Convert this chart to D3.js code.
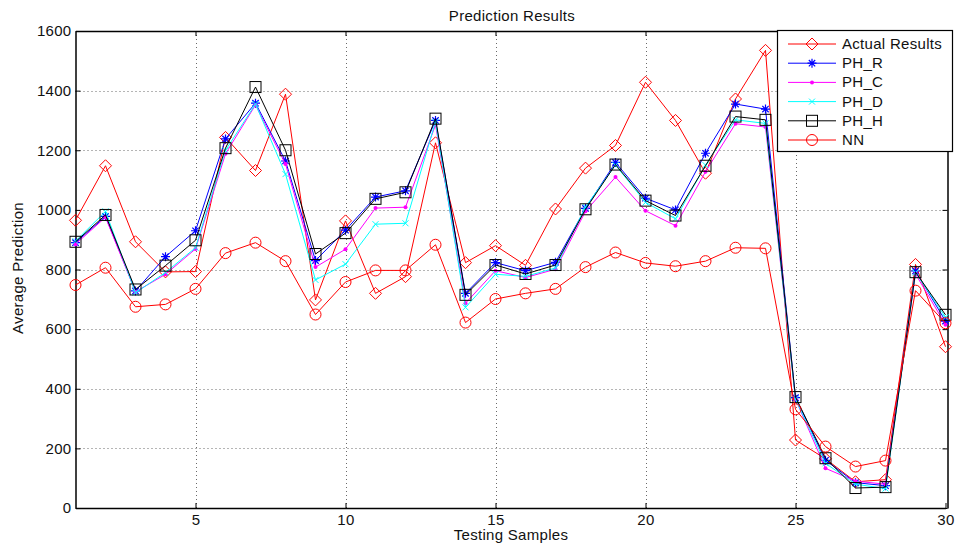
<!DOCTYPE html>
<html>
<head>
<meta charset="utf-8">
<script src="https://cdn.jsdelivr.net/npm/d3@7"></script>
<style>
  body { margin: 0; background: #fff; }
  svg { font-family: "Liberation Sans", Arial, sans-serif; }
</style>
</head>
<body>
<div id="canvas"></div>
<script>
// samples 1..30
var samples = d3.range(1, 31);

var actual = [965, 1148, 893, 792, 793, 1243, 1132, 1388, 698, 963,
              720, 776, 1225, 823, 880, 814, 1003, 1140, 1216, 1428,
              1300, 1123, 1372, 1535, 228, 165, 88, 95, 817, 541];
var phR = [890, 978, 728, 843, 930, 1238, 1358, 1164, 830, 932,
           1043, 1064, 1300, 720, 823, 796, 824, 1005, 1159, 1039,
           1000, 1190, 1355, 1338, 370, 160, 85, 75, 795, 627];
var phC = [885, 975, 725, 784, 869, 1188, 1352, 1154, 808, 868,
           1006, 1009, 1285, 687, 796, 773, 801, 995, 1110, 997,
           947, 1128, 1289, 1278, 365, 133, 90, 80, 785, 615];
var phD = [895, 995, 722, 790, 873, 1200, 1355, 1120, 765, 818,
           952, 955, 1295, 673, 784, 777, 805, 1010, 1150, 1025,
           970, 1150, 1302, 1290, 365, 150, 80, 65, 790, 640];
var phH = [893, 983, 733, 813, 898, 1207, 1412, 1200, 852, 922,
           1037, 1059, 1306, 715, 815, 785, 815, 1002, 1152, 1031,
           981, 1148, 1313, 1302, 372, 167, 67, 70, 791, 648];
var nn = [748, 806, 675, 683, 735, 855, 890, 828, 649, 758,
          797, 797, 883, 622, 701, 720, 735, 808, 857, 822,
          811, 828, 873, 871, 331, 206, 139, 159, 729, 620];

var xTicks = [5, 10, 15, 20, 25, 30];
var yTicks = d3.range(0, 1601, 200);

var series = [
  {name: "Actual Results", values: actual, color: "#ff0000", marker: "diamond"},
  {name: "PH_R", values: phR, color: "#0000ff", marker: "star"},
  {name: "PH_C", values: phC, color: "#ff00ff", marker: "dot"},
  {name: "PH_D", values: phD, color: "#00ffff", marker: "cross"},
  {name: "PH_H", values: phH, color: "#000000", marker: "square"},
  {name: "NN", values: nn, color: "#ff0000", marker: "circle"}
];

var W = 959, H = 544;
var pLeft = 75.5, pRight = 947.5, pTop = 31, pBottom = 508;
var fontSize = 15, spacing = "0.3px";

var svg = d3.select("#canvas").append("svg")
  .attr("width", W).attr("height", H);

var x = d3.scaleLinear().domain([1, 30]).range([pLeft, pRight - 2]);
var y = d3.scaleLinear().domain([0, 1600]).range([pBottom, pTop]);

// grid
var grid = svg.append("g");
grid.selectAll(".gx").data(xTicks.filter(function(d) { return d < 30; })).enter().append("line")
  .attr("x1", function(d) { return Math.round(x(d)) + 0.5; })
  .attr("x2", function(d) { return Math.round(x(d)) + 0.5; })
  .attr("y1", pTop).attr("y2", pBottom)
  .attr("stroke", "#444").attr("stroke-width", 0.8).attr("stroke-dasharray", "1,3");
grid.selectAll(".gy").data(yTicks.filter(function(d) { return d > 0 && d < 1600; })).enter().append("line")
  .attr("y1", function(d) { return Math.round(y(d)) + 0.5; })
  .attr("y2", function(d) { return Math.round(y(d)) + 0.5; })
  .attr("x1", pLeft).attr("x2", pRight)
  .attr("stroke", "#444").attr("stroke-width", 0.8).attr("stroke-dasharray", "1,3");

// axes (ticks inside, mirrored)
var axB = svg.append("g").attr("transform", "translate(0," + pBottom + ")")
  .call(d3.axisBottom(x).tickValues(xTicks).tickSizeInner(-5).tickSizeOuter(0).tickPadding(6));
var axT = svg.append("g").attr("transform", "translate(0," + pTop + ")")
  .call(d3.axisTop(x).tickValues(xTicks).tickSizeInner(-5).tickSizeOuter(0).tickFormat(""));
var axL = svg.append("g").attr("transform", "translate(" + pLeft + ",0)")
  .call(d3.axisLeft(y).tickValues(yTicks).tickSizeInner(-5).tickSizeOuter(0).tickPadding(4).tickFormat(d3.format("d")));
var axR = svg.append("g").attr("transform", "translate(" + pRight + ",0)")
  .call(d3.axisRight(y).tickValues(yTicks).tickSizeInner(-5).tickSizeOuter(0).tickFormat(""));
[axB, axT, axL, axR].forEach(function(a) {
  a.selectAll("text").attr("font-size", fontSize).attr("fill", "#111")
    .attr("letter-spacing", spacing)
    .attr("font-family", "Liberation Sans, Arial, sans-serif");
  a.selectAll("line").attr("stroke", "#000");
  a.select(".domain").attr("stroke", "#000").attr("stroke-width", 1.5);
});

// lines
var line = d3.line()
  .x(function(d, i) { return x(samples[i]); })
  .y(function(d) { return y(d); });

function drawMarker(g, type, color, cx, cy) {
  if (type === "diamond") {
    g.append("path").attr("d", "M" + cx + "," + (cy - 6) + "L" + (cx + 6) + "," + cy + "L" + cx + "," + (cy + 6) + "L" + (cx - 6) + "," + cy + "Z")
      .attr("fill", "none").attr("stroke", color).attr("stroke-width", 1);
  } else if (type === "square") {
    g.append("rect").attr("x", cx - 5.5).attr("y", cy - 5.5).attr("width", 11).attr("height", 11)
      .attr("fill", "none").attr("stroke", color).attr("stroke-width", 1);
  } else if (type === "circle") {
    g.append("circle").attr("cx", cx).attr("cy", cy).attr("r", 5.5)
      .attr("fill", "none").attr("stroke", color).attr("stroke-width", 1);
  } else if (type === "dot") {
    g.append("circle").attr("cx", cx).attr("cy", cy).attr("r", 2)
      .attr("fill", color);
  } else if (type === "cross") {
    var s = 3;
    g.append("path").attr("d", "M" + (cx - s) + "," + (cy - s) + "L" + (cx + s) + "," + (cy + s) + "M" + (cx - s) + "," + (cy + s) + "L" + (cx + s) + "," + (cy - s))
      .attr("stroke", color).attr("stroke-width", 1);
  } else if (type === "star") {
    var r = 4.5, d = "";
    for (var k = 0; k < 4; k++) {
      var a = k * Math.PI / 4;
      d += "M" + (cx - r * Math.cos(a)) + "," + (cy - r * Math.sin(a)) + "L" + (cx + r * Math.cos(a)) + "," + (cy + r * Math.sin(a));
    }
    g.append("path").attr("d", d).attr("stroke", color).attr("stroke-width", 1.2);
  }
}

series.forEach(function(s) {
  var g = svg.append("g");
  g.append("path").datum(s.values).attr("d", line)
    .attr("fill", "none").attr("stroke", s.color).attr("stroke-width", 1);
  s.values.forEach(function(v, i) {
    drawMarker(g, s.marker, s.color, x(samples[i]), y(v));
  });
});

// title and labels
function label(sel) {
  return sel.attr("font-size", fontSize).attr("letter-spacing", spacing).attr("fill", "#111");
}
label(svg.append("text").attr("x", 512).attr("y", 21).attr("text-anchor", "middle"))
  .text("Prediction Results");
label(svg.append("text").attr("x", 511).attr("y", 540).attr("text-anchor", "middle"))
  .text("Testing Samples");
label(svg.append("text").attr("transform", "translate(23,268) rotate(-90)").attr("text-anchor", "middle"))
  .text("Average Prediction");

// legend
var lg = svg.append("g");
lg.append("rect").attr("x", 777.5).attr("y", 30.5).attr("width", 175).attr("height", 121)
  .attr("fill", "#fff").attr("stroke", "#000").attr("stroke-width", 1.2);
series.forEach(function(s, i) {
  var ly = 44 + i * 19.2;
  lg.append("line").attr("x1", 788).attr("x2", 836).attr("y1", ly).attr("y2", ly)
    .attr("stroke", s.color).attr("stroke-width", 1);
  drawMarker(lg, s.marker, s.color, 812, ly);
  label(lg.append("text").attr("x", 842).attr("y", ly + 5)).text(s.name);
});
</script>
</body>
</html>
